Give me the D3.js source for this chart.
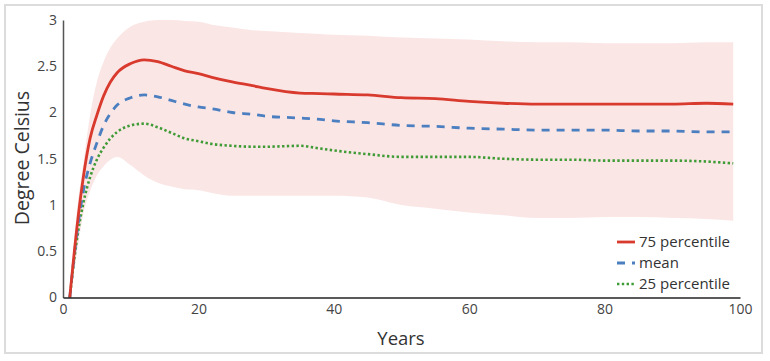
<!DOCTYPE html>
<html>
<head>
<meta charset="utf-8">
<script src="https://cdn.jsdelivr.net/npm/d3@7"></script>
<style>
    body { margin: 0; background: #fff; }
    text { font-family: "Open Sans", sans-serif; }
</style>
</head>
<body>
<div id="chart"></div>
<script>
var years = [1, 2, 3, 4, 5, 6, 7, 8, 10, 12, 14, 16, 18, 20, 22, 25, 28, 30, 35, 38, 40, 45, 50, 55, 60, 65, 70, 75, 80, 85, 90, 95, 99];
var p75 = [0, 0.72, 1.30, 1.72, 1.97, 2.18, 2.33, 2.43, 2.53, 2.57, 2.55, 2.50, 2.45, 2.42, 2.38, 2.33, 2.29, 2.26, 2.21, 2.205, 2.20, 2.19, 2.16, 2.15, 2.12, 2.10, 2.09, 2.09, 2.09, 2.09, 2.09, 2.10, 2.09];
var mean = [0, 0.66, 1.15, 1.45, 1.67, 1.86, 1.99, 2.08, 2.16, 2.19, 2.17, 2.13, 2.09, 2.06, 2.04, 2.00, 1.98, 1.96, 1.94, 1.925, 1.91, 1.89, 1.86, 1.85, 1.83, 1.82, 1.81, 1.81, 1.81, 1.80, 1.80, 1.79, 1.79];
var p25 = [0, 0.60, 1.02, 1.30, 1.49, 1.62, 1.72, 1.79, 1.86, 1.88, 1.84, 1.78, 1.72, 1.69, 1.66, 1.64, 1.63, 1.63, 1.64, 1.61, 1.59, 1.55, 1.52, 1.52, 1.52, 1.50, 1.49, 1.49, 1.48, 1.48, 1.48, 1.47, 1.45];
var bandHigh = [0, 0.90, 1.45, 1.97, 2.33, 2.55, 2.70, 2.80, 2.93, 2.98, 3.00, 3.00, 2.99, 2.98, 2.95, 2.92, 2.89, 2.88, 2.86, 2.85, 2.84, 2.83, 2.81, 2.80, 2.79, 2.77, 2.76, 2.76, 2.75, 2.75, 2.75, 2.76, 2.76];
var bandLow = [0, 0.45, 0.90, 1.15, 1.32, 1.42, 1.49, 1.52, 1.43, 1.32, 1.24, 1.20, 1.17, 1.16, 1.13, 1.10, 1.10, 1.10, 1.10, 1.10, 1.10, 1.08, 1.00, 0.96, 0.92, 0.89, 0.86, 0.86, 0.87, 0.87, 0.86, 0.85, 0.83];
var xTicks = [0, 20, 40, 60, 80, 100];
var yTicks = [0, 0.5, 1, 1.5, 2, 2.5, 3];

var W = 770, H = 361;

var svg = d3.select("#chart")
    .append("svg")
    .attr("width", W)
    .attr("height", H);

// frame
svg.append("rect")
    .attr("x", 5).attr("y", 5)
    .attr("width", 757).attr("height", 348)
    .attr("fill", "#fff")
    .attr("stroke", "#dcdcdc")
    .attr("stroke-width", 2);

var x = d3.scaleLinear().domain([0, 100]).range([63, 740]);
var y = d3.scaleLinear().domain([0, 3]).range([297.5, 20]);

var rows = years.map(function (yr, i) {
    return { yr: yr, p75: p75[i], mean: mean[i], p25: p25[i], hi: bandHigh[i], lo: bandLow[i] };
});

// band
svg.append("path")
    .datum(rows)
    .attr("fill", "#fbe6e6")
    .attr("d", d3.area()
        .curve(d3.curveMonotoneX)
        .x(function (d) { return x(d.yr); })
        .y0(function (d) { return y(d.lo); })
        .y1(function (d) { return y(d.hi); }));

var series = [
    { key: "p25", label: "25 percentile", color: "#3f9b35", width: 2.6, dash: "2.4,2.4" },
    { key: "mean", label: "mean", color: "#4b7fc0", width: 2.8, dash: "8,7" },
    { key: "p75", label: "75 percentile", color: "#d93a2e", width: 2.8, dash: null }
];

series.forEach(function (s) {
    svg.append("path")
        .datum(rows)
        .attr("fill", "none")
        .attr("stroke", s.color)
        .attr("stroke-width", s.width)
        .attr("stroke-dasharray", s.dash)
        .attr("d", d3.line()
            .curve(d3.curveMonotoneX)
            .x(function (d) { return x(d.yr); })
            .y(function (d) { return y(d[s.key]); }));
});

// axes
var yAxis = svg.append("g")
    .attr("transform", "translate(63,0)")
    .call(d3.axisLeft(y).tickValues(yTicks).tickSize(0).tickPadding(6).tickFormat(d3.format("")));
yAxis.select(".domain").attr("stroke", "#555").attr("stroke-width", 1.5);
yAxis.selectAll("text").attr("font-size", 14).attr("fill", "#444").style("font-family", "Open Sans");

var xAxis = svg.append("g")
    .attr("transform", "translate(0,297.5)")
    .call(d3.axisBottom(x).tickValues(xTicks).tickSize(0).tickPadding(7));
xAxis.select(".domain").attr("stroke", "#222").attr("stroke-width", 1.5);
xAxis.selectAll("text").attr("font-size", 14).attr("fill", "#444").style("font-family", "Open Sans");

svg.append("text")
    .attr("transform", "translate(29,158) rotate(-90)")
    .attr("text-anchor", "middle")
    .attr("font-size", 19.5)
    .attr("fill", "#333")
    .text("Degree Celsius");

svg.append("text")
    .attr("x", 401)
    .attr("y", 345)
    .attr("text-anchor", "middle")
    .attr("font-size", 18.5)
    .attr("fill", "#333")
    .text("Years");

// legend
var legend = svg.append("g").attr("transform", "translate(617,242)");
series.slice().reverse().forEach(function (s, i) {
    var g = legend.append("g").attr("transform", "translate(0," + (i * 21) + ")");
    g.append("line")
        .attr("x1", 0).attr("x2", 18)
        .attr("stroke", s.color)
        .attr("stroke-width", s.width)
        .attr("stroke-dasharray", s.dash);
    g.append("text")
        .attr("x", 22)
        .attr("dy", "0.35em")
        .attr("font-size", 15)
        .attr("fill", "#333")
        .text(s.label);
});
</script>
</body>
</html>
